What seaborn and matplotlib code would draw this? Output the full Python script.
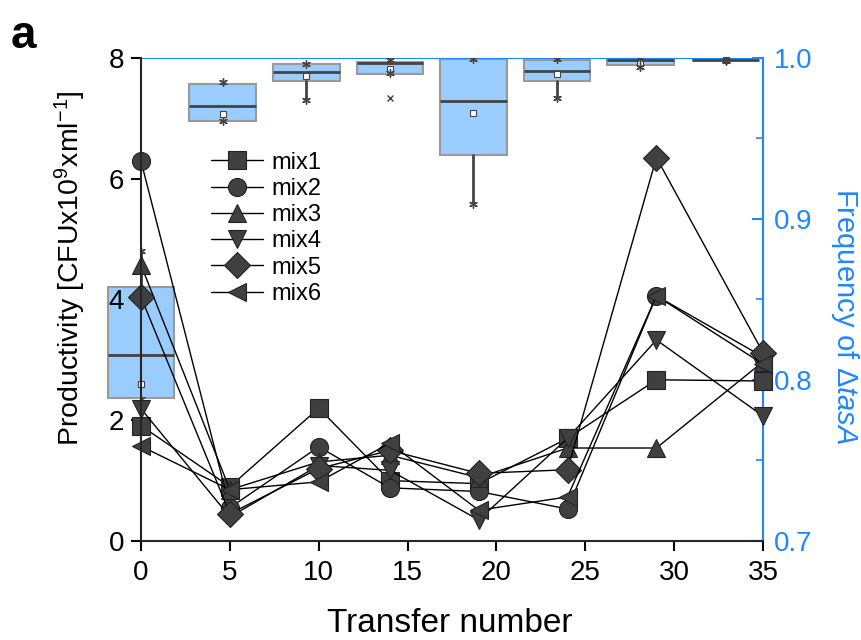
import numpy as np
import pandas as pd
import matplotlib
matplotlib.use("Agg")
import matplotlib.pyplot as plt
import seaborn as sns

# Productivity per mix (left axis)
transfer = [0, 5, 10, 14, 19, 24, 29, 35]
mix1 = [1.91, 0.90, 2.20, 1.00, 0.95, 1.70, 2.67, 2.65]
mix2 = [6.29, 0.55, 1.56, 0.88, 0.82, 0.53, 4.06, 3.05]
mix3 = [4.57, 0.85, 1.31, 1.42, 1.05, 1.54, 1.54, 2.97]
mix4 = [2.19, 0.40, 1.25, 1.17, 0.35, 1.70, 3.33, 2.07]
mix5 = [4.04, 0.45, 1.20, 1.50, 1.12, 1.18, 6.35, 3.12]
mix6 = [1.57, 0.85, 0.98, 1.62, 0.51, 0.73, 4.06, 2.93]
mix_names = ["mix1", "mix2", "mix3", "mix4", "mix5", "mix6"]
mix_markers = ["s", "o", "^", "v", "D", "<"]

# Frequency of delta tasA (right axis), box summaries
box_pos = [0.0, 4.6, 9.3, 14.0, 18.7, 23.4, 28.1, 32.9]
box_lo = [0.788, 0.961, 0.974, 0.9905, 0.909, 0.975, 0.9946, 0.9983]
box_q1 = [0.789, 0.961, 0.986, 0.990, 0.940, 0.9857, 0.9957, 0.9985]
box_med = [0.8155, 0.970, 0.991, 0.997, 0.973, 0.992, 0.9988, 0.9988]
box_q3 = [0.858, 0.984, 0.996, 0.9977, 0.9995, 0.999, 0.9992, 0.999]
box_hi = [0.880, 0.985, 0.9965, 0.999, 0.9995, 0.9994, 0.9994, 0.999]
box_mean = [0.7975, 0.965, 0.989, 0.993, 0.966, 0.990, 0.997, 0.999]
box_out = [[], [], [], [0.975], [], [], [], []]

blue = "#1E88FF"

sns.set_style("ticks")
plt.rcParams["font.family"] = ["Liberation Sans", "DejaVu Sans"]
plt.rcParams["mathtext.fontset"] = "custom"
plt.rcParams["mathtext.rm"] = "Liberation Sans"
plt.rcParams["mathtext.it"] = "Liberation Sans:italic"
for k in ["text.color", "axes.labelcolor", "xtick.color", "ytick.color"]:
    plt.rcParams[k] = "black"

df = pd.DataFrame({
    "transfer": transfer * 6,
    "value": mix1 + mix2 + mix3 + mix4 + mix5 + mix6,
    "mix": np.repeat(mix_names, len(transfer)),
})

fig = plt.figure(figsize=(8.62, 6.4), dpi=100)
ax = fig.add_axes([0.1636, 0.1547, 0.7216, 0.7547])
ax2 = ax.twinx()

# boxes on the right axis
stats = []
for i in range(len(box_pos)):
    stats.append({"whislo": box_lo[i], "q1": box_q1[i], "med": box_med[i],
                  "q3": box_q3[i], "whishi": box_hi[i], "mean": box_mean[i],
                  "fliers": box_out[i]})
ax2.bxp(stats, positions=box_pos, widths=3.75, patch_artist=True,
        showmeans=True, showcaps=False, manage_ticks=False,
        boxprops=dict(facecolor="#99CCFF", edgecolor="#9a9a9a", linewidth=1.5),
        medianprops=dict(color="#444444", linewidth=2),
        whiskerprops=dict(color="#444444", linewidth=2),
        meanprops=dict(marker="s", markerfacecolor="white", markeredgecolor="#444444",
                       markersize=4, markeredgewidth=0.8),
        flierprops=dict(marker="x", markeredgecolor="#444444", markersize=4))
ax2.scatter(box_pos + box_pos, box_lo + box_hi, marker=(6, 2, 0), s=30,
            color="#444444", linewidths=1, zorder=3)
for a in ax2.patches + ax2.lines:
    a.set_clip_on(False)

# productivity lines
sns.lineplot(data=df, x="transfer", y="value", style="mix", markers=mix_markers,
             dashes=False, color="black", linewidth=1, markersize=13,
             markerfacecolor="#404040", markeredgecolor="#222222",
             markeredgewidth=0.8, ax=ax, clip_on=False)

ax.set_zorder(ax2.get_zorder() + 1)
ax.patch.set_visible(False)

handles, labels = ax.get_legend_handles_labels()
ax.legend(handles, labels, frameon=False, loc="upper left",
          bbox_to_anchor=(0.078, 0.85), fontsize=17, handlelength=2.2,
          labelspacing=0.18, handletextpad=0.35)

ax.set_xlim(0, 35)
ax.set_ylim(0, 8)
ax.set_xticks([0, 5, 10, 15, 20, 25, 30, 35])
ax.set_yticks([0, 2, 4, 6, 8])
ax.tick_params(axis="both", labelsize=20, length=7, width=1.5, direction="out")
ax.tick_params(axis="x", pad=7)
ax.tick_params(axis="y", pad=5)
ax.set_xlabel("Transfer number", fontsize=24, va="center")
ax.xaxis.set_label_coords(0.497, -0.170)
ax.set_ylabel("Productivity [CFUx10$^9$xml$^{-1}$]", fontsize=20.5, va="center")
ax.yaxis.set_label_coords(-0.114, 0.565)

ax2.set_ylim(0.7, 1.0)
ax2.set_yticks([0.7, 0.8, 0.9, 1.0])
ax2.set_yticklabels(["0.7", "0.8", "0.9", "1.0"])
ax2.set_yticks([0.75, 0.85, 0.95], minor=True)
ax2.tick_params(axis="y", colors=blue, labelsize=20, length=8, width=1.5,
                direction="in", pad=8)
ax2.tick_params(axis="y", which="minor", colors=blue, length=5, width=1.2,
                direction="in")
ax2.set_ylabel("Frequency of $\\mathit{\\Delta tasA}$", fontsize=21, color=blue,
               rotation=270, va="center")
ax2.yaxis.set_label_coords(1.132, 0.466)

for s in ["left", "bottom"]:
    ax.spines[s].set_linewidth(1.5)
    ax2.spines[s].set_visible(False)
ax.spines["right"].set_visible(False)
ax.spines["top"].set_visible(False)
ax2.spines["right"].set_color(blue)
ax2.spines["right"].set_linewidth(1.5)
ax2.spines["top"].set_color(blue)
ax2.spines["top"].set_linewidth(0.8)

fig.text(0.012, 0.925, "a", fontsize=33, fontweight="bold")

fig.savefig("out.png", dpi=100)
